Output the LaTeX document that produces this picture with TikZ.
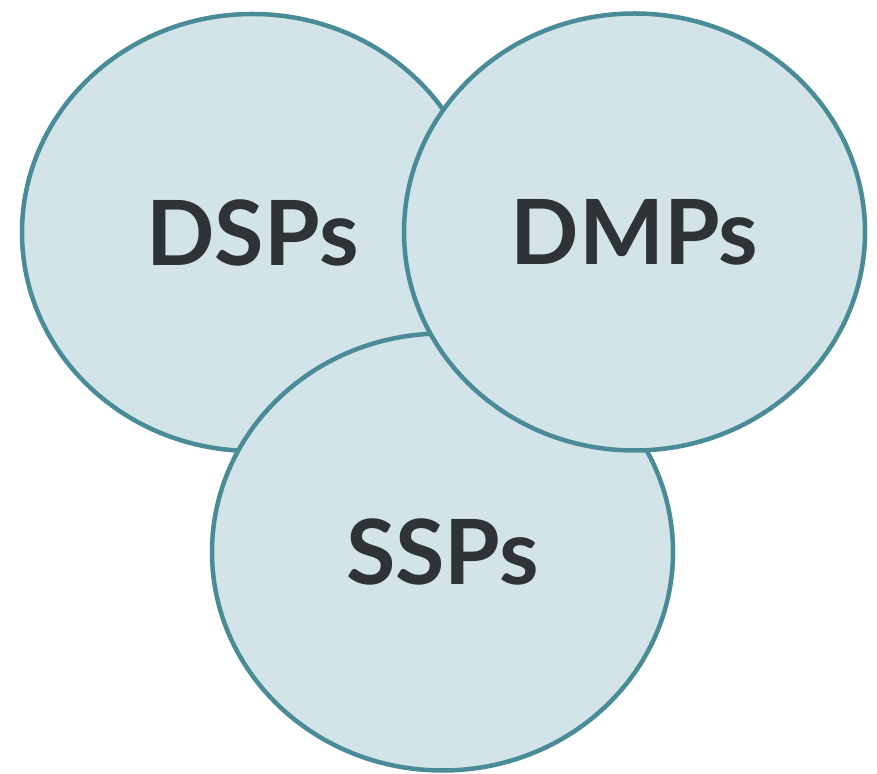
\documentclass[tikz,border=0pt]{standalone}
\usepackage{fontspec}
\setmainfont{Lato}
\usepackage{tikz}
\usetikzlibrary{shapes.geometric,shadows}
\definecolor{ringline}{HTML}{4A8B98}
\definecolor{ringfill}{HTML}{D2E4E7}
\definecolor{ringtext}{HTML}{2F3337}

\begin{document}
\begin{tikzpicture}[
  x=1pt, y=1pt,
  ring/.style = {ellipse, draw=ringline, fill=ringfill, line width=4.5pt,
                 minimum width=461pt, minimum height=437pt, inner sep=0pt,
                 text=ringtext, font=\fontsize{90}{100}\selectfont\bfseries,
                 drop shadow={opacity=0.18, shadow xshift=1.5pt, shadow yshift=-1.5pt}},
]
\useasboundingbox (0,0) rectangle (877,773);
\node[ring] (dsp) at (252.5, 540.5) {DSPs};
\node[ring] (ssp) at (442.5, 221.0) {SSPs};
\node[ring] (dmp) at (634.5, 541.0) {DMPs};
\end{tikzpicture}
\end{document}
